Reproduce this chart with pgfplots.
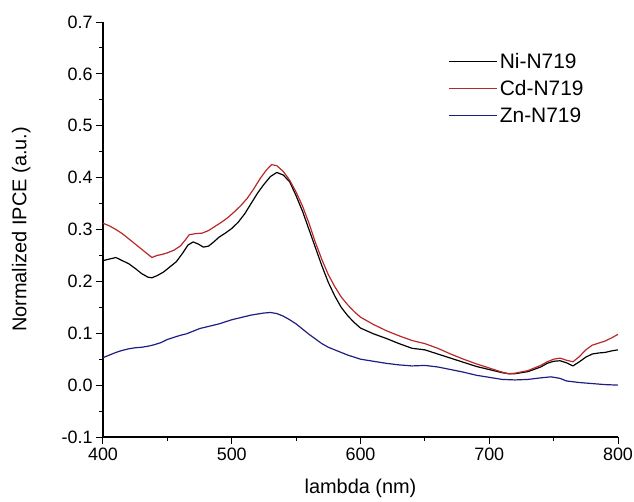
\documentclass[border=0pt]{standalone}
\usepackage{pgfplots}
\pgfplotsset{compat=1.18}
\usepackage{fontspec}
\setmainfont{Liberation Sans}
\definecolor{cdred}{RGB}{185,40,40}
\definecolor{znblue}{RGB}{30,30,130}

\begin{document}
\begin{tikzpicture}
\useasboundingbox (-103bp,-65bp) rectangle (531bp,437bp);
\begin{axis}[
  scale only axis,
  width=515bp, height=415bp,
  xmin=400, xmax=800, ymin=-0.1, ymax=0.7,
  axis x line*=bottom, axis y line*=left,
  axis line style={line width=1.2pt},
  xtick={400,500,600,700,800},
  ytick={-0.1,0,0.1,0.2,0.3,0.4,0.5,0.6,0.7},
  minor x tick num=1, minor y tick num=1,
  tick align=outside,
  major tick length=7bp, minor tick length=4bp,
  tick style={line width=1pt, black},
  yticklabel style={/pgf/number format/.cd, fixed, fixed zerofill, precision=1},
  /pgf/number format/assume math mode=true,
  ticklabel style={font=\fontsize{18}{21}\selectfont},
  xlabel={lambda (nm)},
  ylabel={Normalized IPCE (a.u.)},
  label style={font=\fontsize{20}{24}\selectfont},
  xlabel style={at={(axis description cs:0.5,-0.123)}, anchor=center},
  ylabel style={at={(axis description cs:-0.159,0.5)}, anchor=center, rotate=0},
  legend style={draw=none, fill=none, at={(axis description cs:0.665,0.935)}, anchor=north west,
    font=\fontsize{21}{25}\selectfont, row sep=6.5bp},
  legend cell align=left,
  legend image code/.code={\draw[#1] (0bp,0bp) -- (48bp,0bp);},
  every axis plot/.append style={line width=1.2pt, line join=round},
]
% Ni-N719
\addplot[black] coordinates {
(400,0.240)(405,0.243)(410,0.246)(415,0.240)(420,0.234)(425,0.225)(430,0.215)(435,0.208)(438,0.207)(442,0.211)(447,0.218)(452,0.228)(457,0.238)(462,0.255)(466,0.270)(470,0.276)(474,0.272)(478,0.266)(482,0.268)(486,0.276)(490,0.285)(495,0.293)(500,0.302)(505,0.314)(510,0.330)(515,0.350)(520,0.370)(525,0.387)(530,0.402)(535,0.410)(540,0.405)(545,0.392)(550,0.365)(555,0.335)(560,0.300)(565,0.265)(570,0.230)(575,0.198)(580,0.172)(585,0.150)(590,0.134)(595,0.121)(600,0.110)(610,0.099)(620,0.090)(630,0.080)(640,0.071)(650,0.068)(660,0.060)(670,0.052)(680,0.044)(690,0.036)(700,0.030)(710,0.024)(715,0.022)(720,0.022)(730,0.026)(740,0.035)(745,0.042)(750,0.046)(755,0.047)(760,0.043)(765,0.037)(770,0.045)(775,0.054)(780,0.060)(785,0.062)(790,0.063)(795,0.066)(800,0.068)
};
\addlegendentry{Ni-N719}
% Cd-N719
\addplot[cdred] coordinates {
(400,0.312)(405,0.307)(410,0.300)(415,0.292)(420,0.282)(425,0.272)(430,0.262)(435,0.252)(438,0.246)(442,0.250)(446,0.252)(450,0.255)(455,0.260)(460,0.268)(464,0.280)(467,0.290)(472,0.292)(477,0.293)(482,0.298)(487,0.306)(492,0.314)(497,0.323)(502,0.334)(507,0.346)(512,0.360)(517,0.378)(522,0.398)(527,0.415)(531,0.425)(535,0.423)(540,0.412)(545,0.395)(550,0.372)(555,0.345)(560,0.312)(565,0.275)(570,0.242)(575,0.213)(580,0.190)(585,0.170)(590,0.155)(595,0.142)(600,0.131)(610,0.117)(620,0.105)(630,0.095)(640,0.086)(650,0.080)(660,0.071)(670,0.060)(680,0.050)(690,0.041)(700,0.033)(710,0.025)(715,0.022)(720,0.023)(730,0.028)(740,0.038)(745,0.045)(750,0.050)(755,0.052)(760,0.048)(765,0.045)(770,0.055)(775,0.068)(780,0.077)(785,0.081)(790,0.085)(795,0.091)(800,0.098)
};
\addlegendentry{Cd-N719}
% Zn-N719
\addplot[znblue] coordinates {
(400,0.053)(405,0.058)(410,0.063)(415,0.067)(420,0.070)(425,0.072)(430,0.073)(435,0.075)(440,0.078)(445,0.082)(450,0.088)(455,0.092)(460,0.096)(465,0.099)(470,0.104)(475,0.109)(480,0.112)(485,0.115)(490,0.118)(495,0.122)(500,0.126)(505,0.129)(510,0.132)(515,0.135)(520,0.137)(525,0.139)(530,0.140)(535,0.138)(540,0.133)(545,0.126)(550,0.118)(555,0.108)(560,0.098)(565,0.089)(570,0.080)(575,0.073)(580,0.068)(585,0.063)(590,0.058)(595,0.054)(600,0.050)(610,0.046)(620,0.042)(630,0.039)(640,0.037)(650,0.038)(660,0.035)(670,0.030)(680,0.025)(690,0.019)(700,0.015)(710,0.011)(720,0.010)(730,0.011)(740,0.014)(748,0.016)(755,0.013)(760,0.008)(770,0.005)(780,0.003)(790,0.001)(800,0.000)
};
\addlegendentry{Zn-N719}
\end{axis}
\end{tikzpicture}
\end{document}
